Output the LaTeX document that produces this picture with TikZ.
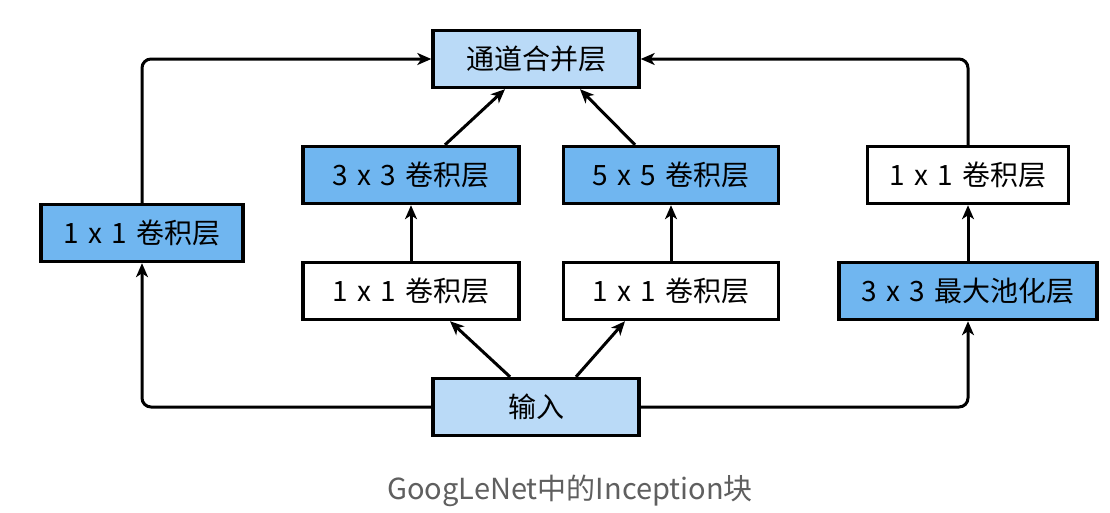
\documentclass[tikz,border=0pt]{standalone}
\usepackage{fontspec}
\setmainfont{Noto Sans CJK SC}
\usetikzlibrary{arrows.meta}
\definecolor{darkb}{RGB}{112,182,240}
\definecolor{lightb}{RGB}{186,218,247}
\definecolor{capgray}{RGB}{95,95,95}
\newcommand{\gsp}{\hspace{0.33em}}
\begin{document}
\begin{tikzpicture}[x=1pt,y=-1pt,
  box/.style={draw=black,line width=3.4pt,minimum height=57pt,inner sep=0pt,font=\fontsize{28}{32}\selectfont},
  conn/.style={line width=3pt,-{Stealth[length=14pt,width=12pt,inset=4pt]},rounded corners=9pt}]
\useasboundingbox (0,0) rectangle (1110,512);
\fill[white] (0,0) rectangle (1110,512);
\node[box,fill=lightb,minimum width=206pt] (out) at (536,59) {通道合并层};
\node[box,fill=lightb,minimum width=206pt] (in) at (536,407) {输入};
\node[box,fill=darkb,minimum width=202pt] (a1) at (142,233) {1\gsp x\gsp 1\gsp 卷积层};
\node[box,fill=darkb,minimum width=216pt] (b2) at (411,175) {3\gsp x\gsp 3\gsp 卷积层};
\node[box,fill=white,minimum width=216pt] (b1) at (411,291) {1\gsp x\gsp 1\gsp 卷积层};
\node[box,fill=darkb,minimum width=215pt] (c2) at (671,175) {5\gsp x\gsp 5\gsp 卷积层};
\node[box,fill=white,minimum width=215pt] (c1) at (671,291) {1\gsp x\gsp 1\gsp 卷积层};
\node[box,fill=white,minimum width=201pt] (d2) at (968,175) {1\gsp x\gsp 1\gsp 卷积层};
\node[box,fill=darkb,minimum width=258pt] (d1) at (968,291) {3\gsp x\gsp 3\gsp 最大池化层};
\node[font=\fontsize{29}{34}\selectfont\addfontfeatures{Weight=Light}, text=capgray] (cap) at (570,491) {GoogLeNet中的Inception块};
% left path
\draw[conn] (in.west) -| (a1.south);
\draw[conn] (a1.north) |- (out.west);
% right path
\draw[conn] (in.east) -| (d1.south);
\draw[conn] (d1.north) -- (d2.south);
\draw[conn] (d2.north) |- (out.east);
% middle
\draw[conn] ([xshift=-26pt]in.north) -- ([xshift=39pt]b1.south);
\draw[conn] ([xshift=40pt]in.north) -- ([xshift=-46pt]c1.south);
\draw[conn] (b1.north) -- (b2.south);
\draw[conn] (c1.north) -- (c2.south);
\draw[conn] ([xshift=34pt]b2.north) -- ([xshift=-31pt]out.south);
\draw[conn] ([xshift=-36pt]c2.north) -- ([xshift=44pt]out.south);
\end{tikzpicture}
\end{document}
